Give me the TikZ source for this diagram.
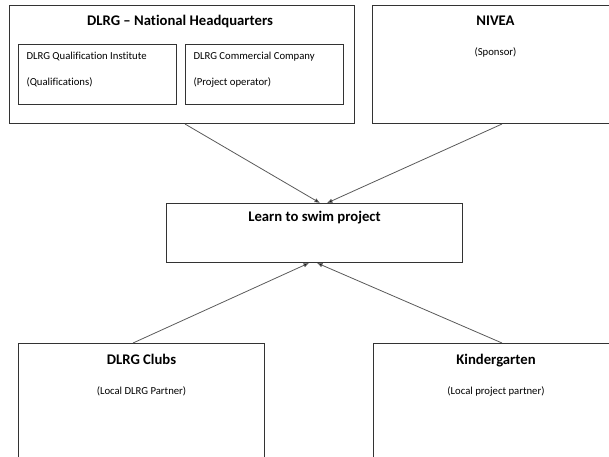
\documentclass[tikz,border=0pt]{standalone}
\usepackage{fontspec}
\setmainfont{Carlito}[Ligatures=CommonOff]
\usetikzlibrary{positioning}
\usetikzlibrary{calc}
\usetikzlibrary{arrows.meta}
\tikzset{
    org chart/.style={
            x=1pt,y=-1pt,
            orgbox/.style={draw=black!80,line width=1pt,rectangle,anchor=north west,inner sep=0pt},
            heading/.style={font=\bfseries\fontsize{14.7}{17}\selectfont,text height=1.6ex,text depth=0.4ex},
            remark/.style={font=\fontsize{10.7}{13}\selectfont,text height=1.6ex,text depth=0.4ex},
            link/.style={draw=black!65,line width=0.8pt,-{Latex[length=5.5pt,width=4.5pt,fill=black]}}
        }
    }

\begin{document}
\begin{tikzpicture}[org chart]
                \useasboundingbox (0,0) rectangle (609,456);
                \clip (0,0) rectangle (609,456);
                % upper row
                \node [orgbox,minimum width=345pt,minimum height=118pt] (HQ) at (9,5) {};
                \node [orgbox,minimum width=158pt,minimum height=60pt] (QI) at (18,44) {};
                \node [orgbox,minimum width=158pt,minimum height=60pt] (CC) at (185,44) {};
                \node [orgbox,minimum width=246pt,minimum height=118pt] (NIVEA) at (372,5) {};
                \node [heading] at ($(HQ.north)+(-2,18)$) {DLRG -- National Headquarters};
                \node [remark,anchor=west] at ($(QI.north west)+(5,13)$) {DLRG Qualification Institute};
                \node [remark,anchor=west] at ($(QI.north west)+(5,39)$) {(Qualifications)};
                \node [remark,anchor=west] at ($(CC.north west)+(5,13)$) {DLRG Commercial Company};
                \node [remark,anchor=west] at ($(CC.north west)+(5,39)$) {(Project operator)};
                \node [heading] at ($(NIVEA.north)+(0,18)$) {NIVEA};
                \node [remark] at ($(NIVEA.north)+(0,48)$) {(Sponsor)};
                % project
                \node [orgbox,minimum width=296pt,minimum height=59pt] (Learn) at (166,203) {};
                \node [heading] at ($(Learn.north)+(0,16)$) {Learn to swim project};
                % lower row
                \node [orgbox,minimum width=246pt,minimum height=130pt] (Clubs) at (18,343) {};
                \node [orgbox,minimum width=245pt,minimum height=130pt] (Kinder) at (373,343) {};
                \node [heading] at ($(Clubs.north)+(0,19)$) {DLRG Clubs};
                \node [remark] at ($(Clubs.north)+(0,49)$) {(Local DLRG Partner)};
                \node [heading] at ($(Kinder.north)+(0,19)$) {Kindergarten};
                \node [remark] at ($(Kinder.north)+(0,49)$) {(Local project partner)};
                \draw [link] ($(HQ.south west)+(176,0)$) -- ($(Learn.north west)+(154,0)$);
                \draw [link] ($(NIVEA.south west)+(130,0)$) -- ($(Learn.north west)+(161,0)$);
                \draw [link] ($(Clubs.north west)+(115,0)$) -- ($(Learn.south west)+(143,0)$);
                \draw [link] ($(Kinder.north west)+(129,0)$) -- ($(Learn.south west)+(151,0)$);
            \end{tikzpicture}
\end{document}
